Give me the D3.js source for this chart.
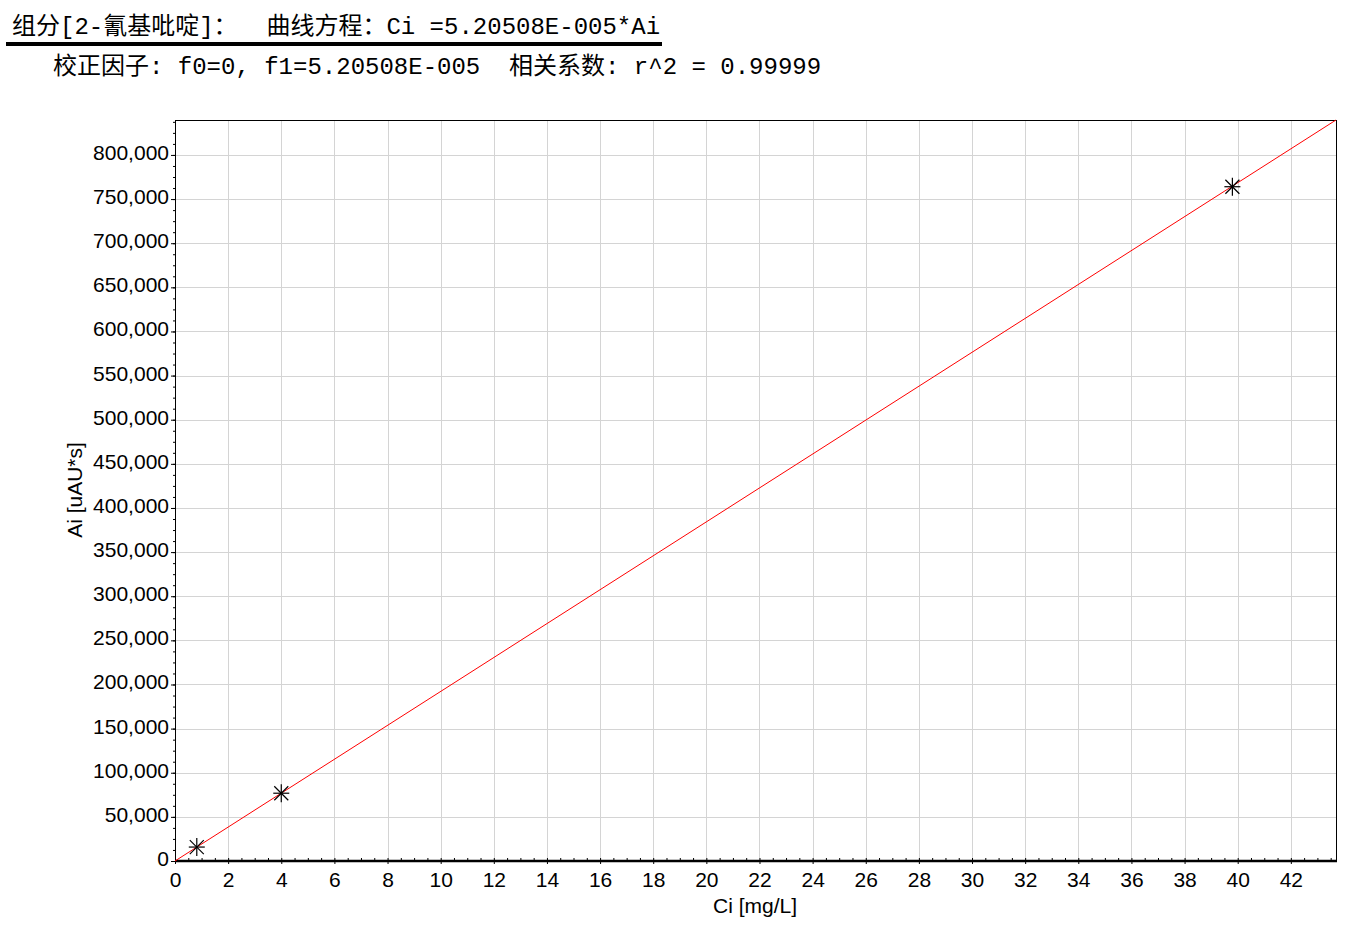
<!DOCTYPE html>
<html lang="zh">

<head>
    <meta charset="UTF-8">
    <title>校正曲线</title>
    <style>
        body { margin: 0; background: #fff; }
        svg text { white-space: pre; }
    </style>
</head>

<body>
    <svg id="calChart"></svg>
    <script src="https://d3js.org/d3.v7.min.js"></script>
    <script>
        // 标样点 (Ci, Ai)
        const pointCi = [0.82, 4.0, 39.8];
        const pointAi = [15800, 76800, 764000];
        // 拟合直线端点
        const fitCi = [0, 43.7];
        const fitAi = [0, 839600];
        // 刻度
        const xTickValues = [0, 2, 4, 6, 8, 10, 12, 14, 16, 18, 20, 22, 24, 26, 28, 30, 32, 34, 36, 38, 40, 42];
        const yTickValues = [0, 50000, 100000, 150000, 200000, 250000, 300000, 350000, 400000,
            450000, 500000, 550000, 600000, 650000, 700000, 750000, 800000];
        const titleLine1 = "组分[2-氰基吡啶]：  曲线方程：Ci =5.20508E-005*Ai";
        const titleLine2 = "校正因子: f0=0, f1=5.20508E-005  相关系数: r^2 = 0.99999";

        const W = 1360, H = 934;
        const margin = { top: 120, right: 24, bottom: 73, left: 175 };
        const width = W - margin.left - margin.right;
        const height = H - margin.top - margin.bottom;

        const svg = d3.select("#calChart").attr("width", W).attr("height", H);

        // 标题
        const tfont = "'Liberation Mono', 'Noto Sans CJK SC', monospace";
        svg.append("text").attr("x", 12).attr("y", 34)
            .attr("font-family", tfont).attr("font-size", 24).attr("fill", "#000")
            .text(titleLine1);
        svg.append("rect").attr("x", 6).attr("y", 42).attr("width", 656).attr("height", 4).attr("fill", "#000");
        svg.append("text").attr("x", 53).attr("y", 74)
            .attr("font-family", tfont).attr("font-size", 24).attr("fill", "#000")
            .text(titleLine2);

        const x = d3.scaleLinear().domain([0, 43.7]).range([0, width]);
        const y = d3.scaleLinear().domain([0, 839600]).range([height, 0]);

        const g = svg.append("g").attr("transform", "translate(" + margin.left + "," + margin.top + ")");

        // 网格
        g.append("g").selectAll("line").data(xTickValues.filter(d => d > 0)).enter().append("line")
            .attr("x1", d => Math.round(x(d)) + 0.5).attr("x2", d => Math.round(x(d)) + 0.5)
            .attr("y1", 0).attr("y2", height)
            .attr("stroke", "#d4d4d4").attr("stroke-width", 1);
        g.append("g").selectAll("line").data(yTickValues.filter(d => d > 0)).enter().append("line")
            .attr("y1", d => Math.round(y(d)) + 0.5).attr("y2", d => Math.round(y(d)) + 0.5)
            .attr("x1", 0).attr("x2", width)
            .attr("stroke", "#d4d4d4").attr("stroke-width", 1);

        // 边框
        g.append("rect").attr("x", 0.5).attr("y", 0.5).attr("width", width).attr("height", height)
            .attr("fill", "none").attr("stroke", "#000").attr("stroke-width", 1);

        // x 轴
        const xMinor = g.append("g").attr("transform", "translate(0," + height + ")")
            .call(d3.axisBottom(x).tickValues(d3.range(0, 43.7, 0.5)).tickSize(-3).tickFormat(""));
        const xAxis = g.append("g").attr("transform", "translate(0," + height + ")")
            .call(d3.axisBottom(x).tickValues(xTickValues).tickSize(3).tickPadding(8).tickFormat(d3.format("d")));
        [xMinor, xAxis].forEach(a => {
            a.select(".domain").remove();
            a.selectAll("line").attr("stroke", "#000");
        });
        xAxis.selectAll("text").attr("font-family", "'Liberation Sans', Arial, sans-serif")
            .attr("font-size", 21).attr("fill", "#000").attr("dy", "0.72em");
        g.append("line").attr("x1", 0).attr("x2", width + 1).attr("y1", height).attr("y2", height)
            .attr("stroke", "#000").attr("stroke-width", 2.5);

        // y 轴
        const yMinor = g.append("g")
            .call(d3.axisLeft(y).tickValues(d3.range(0, 839600, 12500)).tickSize(2).tickFormat(""));
        const yAxis = g.append("g")
            .call(d3.axisLeft(y).tickValues(yTickValues).tickSize(4).tickPadding(2).tickFormat(d3.format(",")));
        [yMinor, yAxis].forEach(a => {
            a.select(".domain").remove();
            a.selectAll("line").attr("stroke", "#000");
        });
        yAxis.selectAll("text").attr("font-family", "'Liberation Sans', Arial, sans-serif")
            .attr("font-size", 21).attr("fill", "#000").attr("dy", 4.5);

        // 轴标题
        g.append("text").attr("x", 580).attr("y", height + 52)
            .attr("text-anchor", "middle").attr("font-family", "'Liberation Sans', Arial, sans-serif")
            .attr("font-size", 21).attr("fill", "#000").text("Ci [mg/L]");
        g.append("text").attr("transform", "translate(-93," + (490 - margin.top) + ") rotate(-90)")
            .attr("text-anchor", "middle").attr("font-family", "'Liberation Sans', Arial, sans-serif")
            .attr("font-size", 21).attr("fill", "#000").text("Ai [uAU*s]");

        // 拟合线
        const line = d3.line().x(d => x(d[0])).y(d => y(d[1]));
        g.append("path").datum(fitCi.map((c, i) => [c, fitAi[i]]))
            .attr("d", line).attr("fill", "none").attr("stroke", "#ff0000").attr("stroke-width", 1);

        // 标样点 (星号)
        const pts = g.append("g").selectAll("g").data(pointCi.map((c, i) => [c, pointAi[i]])).enter().append("g")
            .attr("transform", d => "translate(" + x(d[0]) + "," + y(d[1]) + ")");
        const rh = 8, rv = 9, rd = 7;
        [[-rh, 0, rh, 0], [0, -rv, 0, rv], [-rd, -rd, rd, rd], [-rd, rd, rd, -rd]].forEach(s => {
            pts.append("line").attr("x1", s[0]).attr("y1", s[1]).attr("x2", s[2]).attr("y2", s[3])
                .attr("stroke", "#000").attr("stroke-width", 1.2);
        });
    </script>
</body>

</html>
